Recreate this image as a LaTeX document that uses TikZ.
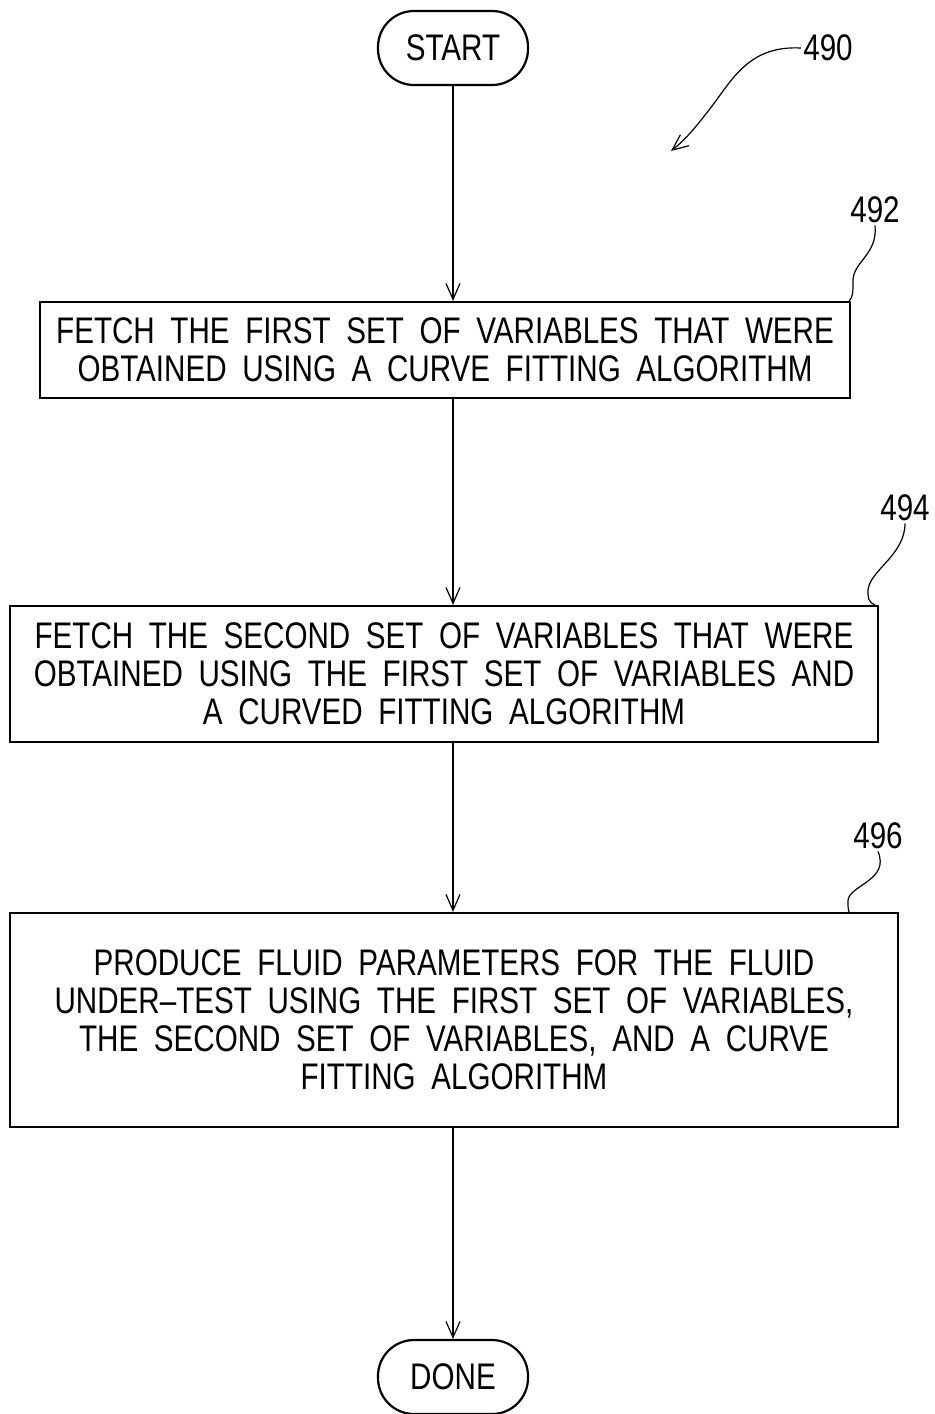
\documentclass[tikz,border=0pt]{standalone}
\usepackage{fontspec}
\setmainfont{Liberation Sans}[FakeStretch=0.8, WordSpace=1.9]
\usetikzlibrary{arrows.meta, positioning}

\begin{document}
\begin{tikzpicture}[x=0.5pt, y=-0.5pt,
  stepbox/.style={draw, line width=1.1pt, align=center, inner sep=0pt, font=\fontsize{18.5}{19}\selectfont},
  termbox/.style={draw, line width=1.1pt, rounded corners=18pt, minimum width=75pt, minimum height=37pt, inner sep=0pt, font=\fontsize{18.5}{19}\selectfont},
  flow/.style={-{Straight Barb[length=8pt, width=7pt]}, line width=0.6pt},
  refnum/.style={inner sep=1pt, font=\fontsize{18.5}{19}\selectfont},
  leader/.style={line width=0.6pt}
]
  \useasboundingbox (0,0) rectangle (935,1414);

  % Start and done
  \node[termbox] (start) at (453, 48) {START};
  \node[termbox] (done) at (453, 1377) {DONE};

  % Steps
  \node[stepbox, minimum width=405pt, minimum height=48pt] (fetchfirst) at (445, 350) {
    FETCH THE FIRST SET OF VARIABLES THAT WERE\\
    OBTAINED USING A CURVE FITTING ALGORITHM
  };
  \node[stepbox, minimum width=434pt, minimum height=68pt] (fetchsecond) at (444, 674) {
    FETCH THE SECOND SET OF VARIABLES THAT WERE\\
    OBTAINED USING THE FIRST SET OF VARIABLES AND\\
    A CURVED FITTING ALGORITHM
  };
  \node[stepbox, minimum width=444pt, minimum height=107pt] (produce) at (454, 1020) {
    PRODUCE FLUID PARAMETERS FOR THE FLUID\\
    UNDER--TEST USING THE FIRST SET OF VARIABLES,\\
    THE SECOND SET OF VARIABLES, AND A CURVE\\
    FITTING ALGORITHM
  };

  % Flow
  \draw[flow] (start.south) -- (start.south |- fetchfirst.north);
  \draw[flow] (start.south |- fetchfirst.south) -- (start.south |- fetchsecond.north);
  \draw[flow] (start.south |- fetchsecond.south) -- (start.south |- produce.north);
  \draw[flow] (start.south |- produce.south) -- (done.north);

  % Reference numerals
  \node[refnum] (r490) at (828, 48) {490};
  \node[refnum] (r492) at (875, 210) {492};
  \node[refnum] (r494) at (905, 508) {494};
  \node[refnum] (r496) at (878, 836) {496};

  \coordinate (tip490) at (671, 151);
  \draw[flow] (r490.west) .. controls (745, 45) and (730, 85) .. (705, 115)
    .. controls (695, 128) and (685, 140) .. (tip490);
  \draw[leader] (r492.south) .. controls (878, 255) and (852, 262) .. (853, 282)
    .. controls (853, 292) and (853, 297) .. ([xshift=-1pt]fetchfirst.north east);
  \draw[leader] (r494.south) .. controls (905, 555) and (870, 570) .. (868, 590)
    .. controls (868, 598) and (868, 602) .. ([xshift=-2pt]fetchsecond.north east);
  \draw[leader] (r496.south) .. controls (890, 880) and (850, 885) .. (848, 900)
    .. controls (848, 906) and (848, 910) .. ([xshift=-25pt]produce.north east);
\end{tikzpicture}
\end{document}
